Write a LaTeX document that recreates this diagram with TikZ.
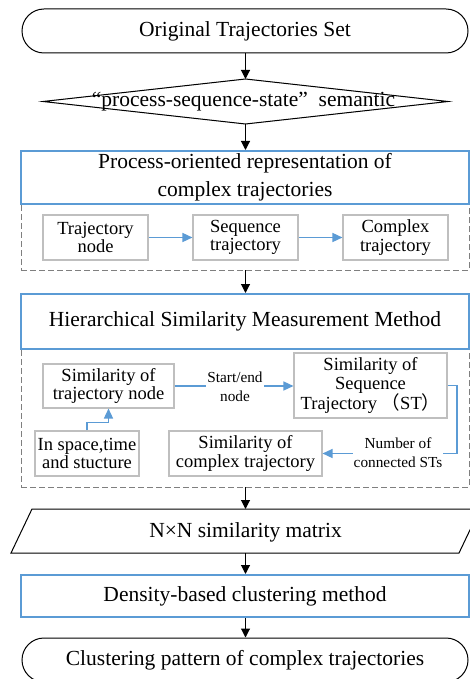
\documentclass[tikz,border=0pt]{standalone}
\usepackage{fontspec}
\setmainfont{Liberation Serif}
\newfontfamily\cjk{Noto Sans CJK SC}
\usetikzlibrary{arrows.meta}
\definecolor{oblue}{HTML}{5B9BD5}
\definecolor{lgray}{HTML}{BFBFBF}
\definecolor{dgray}{HTML}{7F7F7F}
\begin{document}
\begin{tikzpicture}[x=1pt,y=-1pt,
  bigfont/.style={font=\fontsize{21.5}{28}\selectfont},
  midfont/.style={font=\fontsize{18.5}{18.5}\selectfont},
  smallfont/.style={font=\fontsize{15.3}{19}\selectfont},
  term/.style={draw=black,line width=1pt,rounded corners=22pt,minimum width=446pt,minimum height=44pt,inner sep=0pt,bigfont},
  bluebox/.style={draw=oblue,line width=2pt,minimum width=448pt,inner sep=0pt,align=center,bigfont},
  dashbox/.style={draw=dgray,line width=0.9pt,dash pattern=on 6pt off 3pt,minimum width=448pt,inner sep=0pt},
  graybox/.style={draw=lgray,line width=1.1pt,inner sep=0pt,align=center,midfont},
  lbl/.style={fill=white,inner sep=1pt,align=center,smallfont},
  blk/.style={draw=black,line width=1.1pt,-{Triangle[length=9pt,width=9pt]}},
  blu/.style={draw=oblue,line width=1.4pt,-{Triangle[length=10pt,width=9pt]}},
  edge/.style={draw=black,line width=1pt}
]
\useasboundingbox (0,0) rectangle (470,679);
\fill[white] (0,0) rectangle (470,679);

% top terminal
\node[term] (top) at (245,31) {Original Trajectories Set};

% diamond
\coordinate (semT) at (245.5,79);
\coordinate (semB) at (245.5,124);
\draw[edge] (43,101.5) -- (semT) -- (448,101.5) -- (semB) -- cycle;
\node[bigfont,inner sep=0pt] (sem) at (243.5,101.5) {“process-sequence-state”\ \ semantic};

% dashed containers
\node[dashbox,minimum height=66pt] (d1) at (245,237) {};
\node[dashbox,minimum height=138pt] (d2) at (245,418) {};

% blue boxes
\node[bluebox,minimum height=53pt] (proc) at (245,177.5) {Process-oriented representation of\\complex trajectories};
\node[bluebox,minimum height=55pt] (hier) at (245,321.5) {\raisebox{-3pt}{Hierarchical Similarity Measurement Method}};

% process row
\node[graybox,minimum width=105pt,minimum height=45pt] (tn) at (95.5,237.5) {Trajectory\\node};
\node[graybox,minimum width=105pt,minimum height=45pt] (stj) at (245.5,237.5) {Sequence\\trajectory};
\node[graybox,minimum width=105pt,minimum height=45pt] (ctj) at (395.5,237.5) {Complex\\trajectory};
\draw[blu] (tn.east) -- (stj.west);
\draw[blu] (stj.east) -- (ctj.west);

% hierarchical contents
\node[graybox,minimum width=131pt,minimum height=44pt] (sn) at (108.5,386) {Similarity of\\trajectory node};
\node[graybox,minimum width=153pt,minimum height=65pt,font=\fontsize{18.5}{19}\selectfont] (sst) at (370.5,385.5) {Similarity of\\Sequence\\Trajectory\ {\cjk （}ST{\cjk ）}};
\node[graybox,minimum width=104pt,minimum height=45pt] (isp) at (87,453.5) {In space,time\\and stucture};
\node[graybox,minimum width=153pt,minimum height=45pt] (sct) at (245.5,453.5) {Similarity of\\complex trajectory};

\draw[blu] (sn.east) -- (sn.east -| sst.west);
\node[lbl] (l1) at (235,386.5) {Start/end\\node};
\draw[blu] (isp.north) -- ++(0,-8) -| (sn.south);
\coordinate (rt) at (457,385.5);
\draw[blu] (sst.east) -- (rt) |- (sct.east);
\node[lbl] (l2) at (398,452.5) {Number of\\connected STs};

% matrix parallelogram
\coordinate (matT) at (245.5,509);
\coordinate (matB) at (245.5,553);
\draw[edge] (32,509) -- (480,509) -- (459,553) -- (11,553) -- cycle;
\node[bigfont,inner sep=0pt] (mat) at (245.5,532) {N×N similarity matrix};

% density
\node[bluebox,minimum height=42pt] (dens) at (245,596) {Density-based clustering method};

% output terminal
\node[term] (out) at (245,660) {Clustering pattern of complex trajectories};

% black arrows
\draw[blk] (top.south -| semT) -- (semT);
\draw[blk] (semB) -- (semB |- proc.north);
\draw[blk] (d1.south -| semT) -- (hier.north -| semT);
\draw[blk] (d2.south -| semT) -- (matT);
\draw[blk] (matB) -- (dens.north -| matB);
\draw[blk] (dens.south -| matB) -- (out.north -| matB);
\end{tikzpicture}
\end{document}
